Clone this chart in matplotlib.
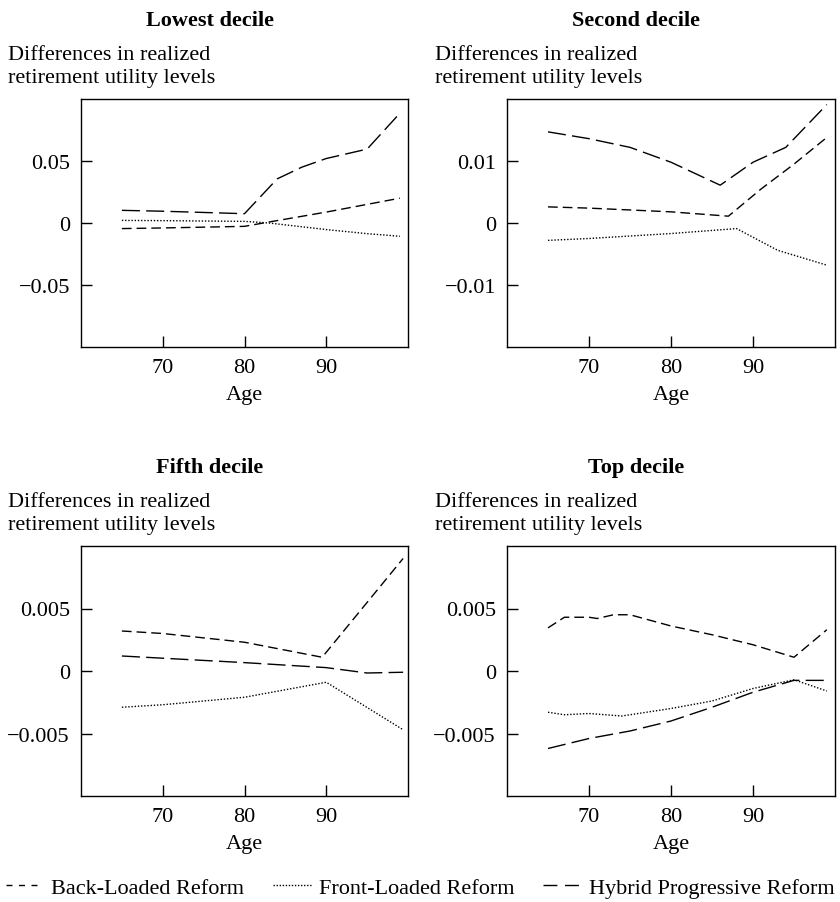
import numpy as np
import matplotlib
matplotlib.use('Agg')
import matplotlib.pyplot as plt
from matplotlib.lines import Line2D

plt.rcParams['font.family'] = ['Liberation Serif', 'DejaVu Serif']
plt.rcParams['axes.unicode_minus'] = True

# ---------------- data ----------------
titles = ['Lowest decile', 'Second decile', 'Fifth decile', 'Top decile']
series_names = ['Back-Loaded Reform', 'Front-Loaded Reform', 'Hybrid Progressive Reform']

# lowest decile
low_back_age = [65, 70, 80, 83, 90, 99]
low_back_val = [-0.0045, -0.004, -0.0027, 0.0008, 0.0088, 0.020]
low_front_age = [65, 70, 80, 83, 90, 95, 99]
low_front_val = [0.0021, 0.0019, 0.0013, 0.0, -0.0053, -0.0086, -0.0107]
low_hyb_age = [65, 70, 80, 84, 87, 90, 95, 99]
low_hyb_val = [0.0102, 0.0095, 0.0075, 0.0356, 0.045, 0.052, 0.0596, 0.0885]

# second decile
sec_back_age = [65, 70, 80, 87, 91, 95, 99]
sec_back_val = [0.0026, 0.0024, 0.0018, 0.0011, 0.0055, 0.0095, 0.0138]
sec_front_age = [65, 70, 80, 88, 93, 99]
sec_front_val = [-0.0028, -0.0025, -0.0017, -0.0009, -0.0044, -0.0068]
sec_hyb_age = [65, 70, 75, 80, 86, 90, 94, 99]
sec_hyb_val = [0.0147, 0.0136, 0.0122, 0.0098, 0.0061, 0.0098, 0.0122, 0.0191]

# fifth decile
fif_back_age = [65, 70, 80, 89.5, 99.4]
fif_back_val = [0.0032, 0.0030, 0.0023, 0.0011, 0.0090]
fif_front_age = [65, 70, 80, 90, 99.4]
fif_front_val = [-0.0029, -0.0027, -0.0021, -0.0009, -0.0047]
fif_hyb_age = [65, 80, 90, 95, 99.4]
fif_hyb_val = [0.0012, 0.00067, 0.00027, -0.00016, -0.0001]

# top decile
top_back_age = [65, 67, 70, 71, 73, 75, 80, 85, 90, 95, 99]
top_back_val = [0.00345, 0.0043, 0.0043, 0.0042, 0.0045, 0.0045, 0.0036, 0.0029, 0.0021, 0.0011, 0.0033]
top_front_age = [65, 67, 70, 74, 77, 80, 85, 90, 95, 99]
top_front_val = [-0.0033, -0.0035, -0.0034, -0.0036, -0.0033, -0.003, -0.0024, -0.0014, -0.0007, -0.0016]
top_hyb_age = [65, 70, 75, 80, 85, 90, 95, 99]
top_hyb_val = [-0.0062, -0.0054, -0.0048, -0.004, -0.0029, -0.0017, -0.00075, -0.00075]

ylims = [0.1, 0.02, 0.01, 0.01]
yticks = [[-0.05, 0, 0.05], [-0.01, 0, 0.01], [-0.005, 0, 0.005], [-0.005, 0, 0.005]]
yticklabels = [['\u22120.05', '0', '0.05'], ['\u22120.01', '0', '0.01'],
               ['\u22120.005', '0', '0.005'], ['\u22120.005', '0', '0.005']]
xticks = [70, 80, 90]

panels = [
    [(low_back_age, low_back_val), (low_front_age, low_front_val), (low_hyb_age, low_hyb_val)],
    [(sec_back_age, sec_back_val), (sec_front_age, sec_front_val), (sec_hyb_age, sec_hyb_val)],
    [(fif_back_age, fif_back_val), (fif_front_age, fif_front_val), (fif_hyb_age, fif_hyb_val)],
    [(top_back_age, top_back_val), (top_front_age, top_front_val), (top_hyb_age, top_hyb_val)],
]

# line styles: short dash, dotted, long dash
styles = [(0, (7, 3.6)), (0, (1, 1.3)), (0, (13, 4.5))]
legend_styles = [(0, (4.3, 4.7)), (0, (1, 1.2)), (0, (10, 5.5))]

W, H = 840, 903
fig = plt.figure(figsize=(W / 100, H / 100), dpi=100)

# axes positions (figure fractions)
positions = [
    [81 / W, 1 - 348 / H, 327 / W, 248 / H],
    [507 / W, 1 - 348 / H, 328 / W, 248 / H],
    [81 / W, 1 - 797 / H, 327 / W, 250 / H],
    [507 / W, 1 - 797 / H, 328 / W, 250 / H],
]

fs = 16
for k in range(4):
    ax = fig.add_axes(positions[k])
    for s in range(3):
        age, val = panels[k][s]
        ax.plot(age, val, color='black', lw=1.0, linestyle=styles[s])
    ax.set_xlim(60, 100)
    ax.set_ylim(-ylims[k], ylims[k])
    ax.set_xticks(xticks)
    ax.set_xticklabels([str(t) for t in xticks])
    ax.set_yticks(yticks[k])
    ax.set_yticklabels(yticklabels[k])
    ax.tick_params(direction='in', length=8, width=1, labelsize=fs, pad=8,
                   top=False, right=False)
    for sp in ax.spines.values():
        sp.set_linewidth(1.0)
    ax.set_xlabel('Age', fontsize=fs, labelpad=6)

    row_off = 0 if k < 2 else 447
    left_x = 8 if k % 2 == 0 else 435
    title_x = 210 if k % 2 == 0 else 636
    fig.text(title_x / W, 1 - (26 + row_off) / H, titles[k], ha='center',
             va='baseline', fontsize=fs, fontweight='bold')
    fig.text(left_x / W, 1 - (60 + row_off) / H, 'Differences in realized',
             ha='left', va='baseline', fontsize=fs)
    fig.text(left_x / W, 1 - (83 + row_off) / H, 'retirement utility levels',
             ha='left', va='baseline', fontsize=fs)

handles = [Line2D([], [], color='black', lw=1.0, linestyle=legend_styles[s])
           for s in range(3)]
fig.legend(handles, series_names, loc='center', ncol=3, frameon=False,
           fontsize=fs, handlelength=1.7, columnspacing=1.3, handletextpad=0.35,
           borderpad=0, borderaxespad=0,
           bbox_to_anchor=(0.5, 1 - 889 / H))

plt.savefig('out.png', dpi=100)
